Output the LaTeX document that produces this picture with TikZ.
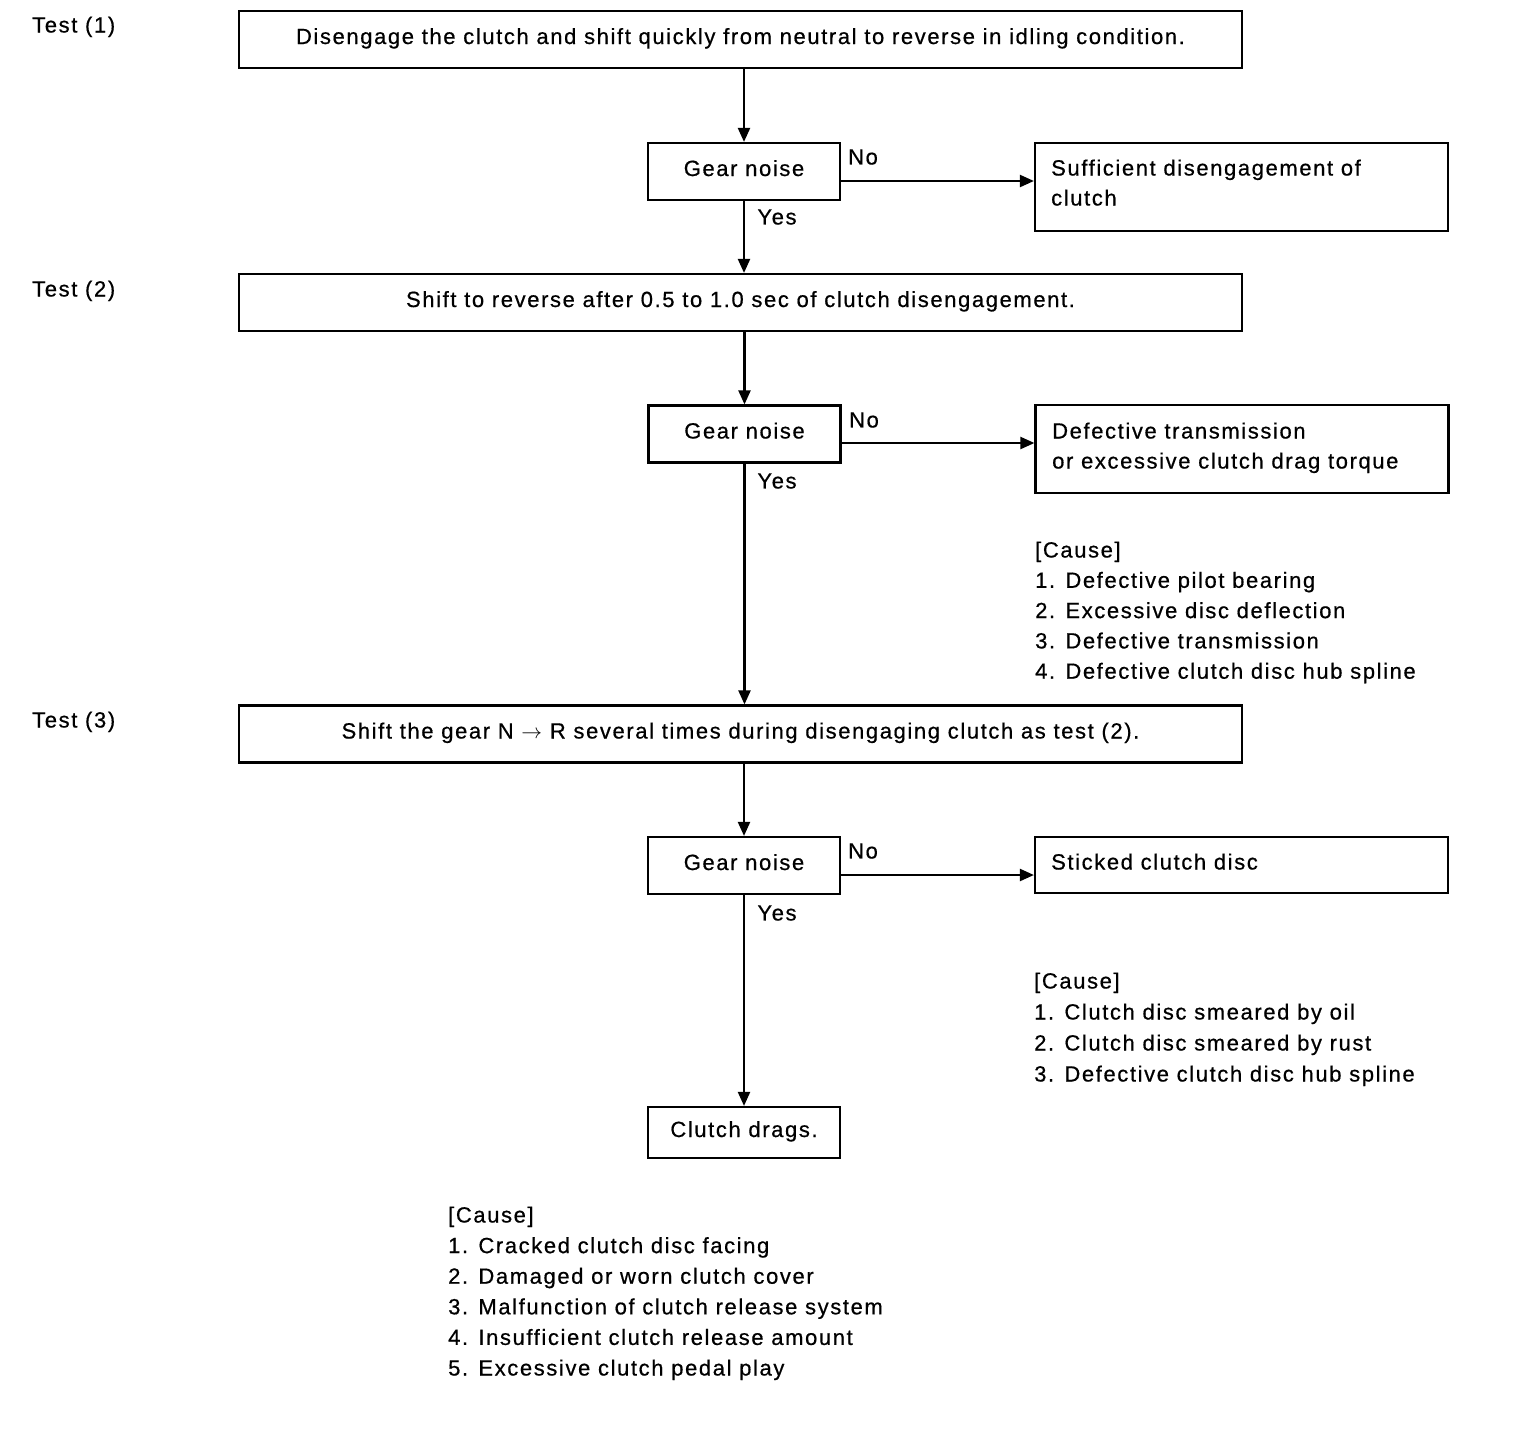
\documentclass[tikz,border=0pt]{standalone}
\usepackage{fontspec}
\setmainfont{Liberation Sans}[LetterSpace=7.3,FakeBold=0.6]
\usetikzlibrary{arrows.meta}
\begin{document}
\begin{tikzpicture}[x=1pt,y=-1pt,
  every node/.style={font=\fontsize{22}{30.5}\selectfont, inner sep=0pt},
  box/.style={draw, line width=2.2pt, minimum height=57pt, text height=9pt, text depth=0pt},
  wide/.style={box, minimum width=1003pt},
  gear/.style={box, minimum width=192pt},
  res/.style={draw, line width=2.2pt, minimum width=413pt},
  lbl/.style={anchor=base west},
  arr/.style={line width=2.2pt, -{Triangle[length=14pt,width=12pt]}}
]
\useasboundingbox (0,0) rectangle (1520,1428);

% Test labels
\node[lbl] (t1) at (32,32.5) {Test (1)};
\node[lbl] (t2) at (32,296.5) {Test (2)};
\node[lbl] (t3) at (32,727.5) {Test (3)};

% Main step boxes
\node[wide] (b1) at (740.5,39.5) {Disengage the clutch and shift quickly from neutral to reverse in idling condition.};
\node[wide] (b2) at (740.5,302.5) {Shift to reverse after 0.5 to 1.0 sec of clutch disengagement.};
\node[wide] (b3) at (740.5,734) {Shift the gear N $\rightarrow$ R several times during disengaging clutch as test (2).};

% Gear noise boxes
\node[gear] (g1) at (744,171.5) {Gear noise};
\node[gear] (g2) at (744.5,434) {Gear noise};
\node[gear] (g3) at (744,865.5) {Gear noise};
\node[box, minimum width=192pt, minimum height=51pt] (cd) at (744,1132.5) {Clutch drags.};

% Result boxes
\node[res, minimum height=88pt] (r1) at (1241.5,187) {};
\node[res, minimum height=88pt] (r2) at (1242,449) {};
\node[res, minimum height=56pt] (r3) at (1241.5,865) {};

\node[lbl] (r1a) at (1051,175.5) {Sufficient disengagement of};
\node[lbl] (r1b) at (1051,205.5) {clutch};
\node[lbl] (r2a) at (1052,438.5) {Defective transmission};
\node[lbl] (r2b) at (1052,468.5) {or excessive clutch drag torque};
\node[lbl] (r3a) at (1051,869.5) {Sticked clutch disc};

% Yes / No labels
\node (n1) at (863,157) {No};
\node (n2) at (864,420) {No};
\node (n3) at (863,851) {No};
\node (y1) at (777,217) {Yes};
\node (y2) at (777,481) {Yes};
\node (y3) at (777,913) {Yes};

% Cause lists
\foreach \t [count=\i] in {{[Cause]},{1. Defective pilot bearing},{2. Excessive disc deflection},{3. Defective transmission},{4. Defective clutch disc hub spline}}
  \node[lbl] (ca\i) at (1035,557.5+30.3*\i-30.3) {\t};
\foreach \t [count=\i] in {{[Cause]},{1. Clutch disc smeared by oil},{2. Clutch disc smeared by rust},{3. Defective clutch disc hub spline}}
  \node[lbl] (cb\i) at (1034,988.5+31*\i-31) {\t};
\foreach \t [count=\i] in {{[Cause]},{1. Cracked clutch disc facing},{2. Damaged or worn clutch cover},{3. Malfunction of clutch release system},{4. Insufficient clutch release amount},{5. Excessive clutch pedal play}}
  \node[lbl] (cc\i) at (448,1222.5+30.6*\i-30.6) {\t};

% Connectors
\draw[arr] (b1.south -| g1.north) -- (g1.north);
\draw[arr] (g1.south) -- (g1.south |- b2.north);
\draw[arr] (b2.south -| g2.north) -- (g2.north);
\draw[arr] (g2.south) -- (g2.south |- b3.north);
\draw[arr] (b3.south -| g3.north) -- (g3.north);
\draw[arr] (g3.south) -- (cd.north);

\draw[arr] ([yshift=-9.5pt]g1.east) -- ([yshift=-9.5pt]g1.east -| r1.west);
\draw[arr] ([yshift=-9pt]g2.east) -- ([yshift=-9pt]g2.east -| r2.west);
\draw[arr] ([yshift=-9.5pt]g3.east) -- ([yshift=-9.5pt]g3.east -| r3.west);
\end{tikzpicture}
\end{document}
